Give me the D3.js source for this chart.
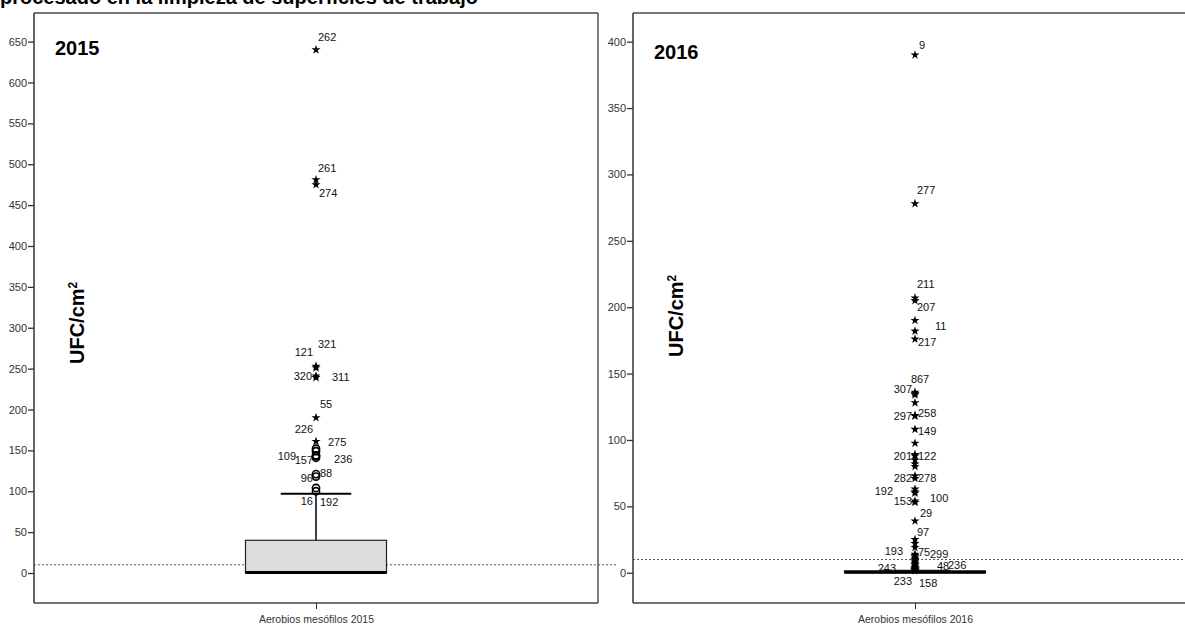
<!DOCTYPE html>
<html lang="es">
<head>
  <meta charset="utf-8">
  <script src="https://cdnjs.cloudflare.com/ajax/libs/d3/7.8.5/d3.min.js"></script>
  <style>
    body { margin: 0; background: #fff; }
    svg { display: block; font-family: "Liberation Sans", Arial, sans-serif; }
    .tick text { font-size: 11px; }
    .lab { font-size: 11px; fill: #111; }
  </style>
</head>
<body>
<svg width="1185" height="625"></svg>
<script>
// ---- data ----
var title = "procesado en la limpieza de superficies de trabajo";
var yTicks2015 = [0, 50, 100, 150, 200, 250, 300, 350, 400, 450, 500, 550, 600, 650];
var yTicks2016 = [0, 50, 100, 150, 200, 250, 300, 350, 400];
var cat2015 = ["Aerobios mesófilos 2015"];
var cat2016 = ["Aerobios mesófilos 2016"];
// q1, median, q3, lower whisker, upper whisker
var box2015 = [0, 0.6, 40, 0, 97];
var box2016 = [0, 0.4, 1.4, 0, 1.4];
var limitValue = 10;

var out2015Ids  = ["262","261","274","321","121","320","311","55","226","275","","109","157","236","88","96","16","192"];
var out2015Vals = [640, 481, 475, 253, 251, 241, 239, 190, 161, 152, 149, 143, 141, 144, 121, 118, 104, 100];
var out2015Kind = ["s","s","s","s","s","s","s","s","s","o","o","o","o","o","o","o","o","o"];

var out2016Ids  = ["9","277","211","207","","11","217","8","67","307","","297","258","149","","201","122","","","",
                   "282","278","192","","","153","100","29","97","","","193","75","299",
                   "","","","","","","","","","243","48","236","233","158"];
var out2016Vals = [390, 278, 207, 205, 190, 182, 176, 136, 135, 134, 128, 118, 118.5, 108, 97.5, 89, 88, 85, 82, 80,
                   73, 71, 63, 61, 60, 54, 53, 39, 25, 22, 19, 14, 13, 12,
                   11, 10, 9, 8, 7, 6, 5, 4, 3.5, 2.2, 2.6, 3, 1.8, 1.6];

// label placement (px offsets from the marker), layout only
var lab2015 = {"262":[2,-9],"261":[2,-8],"274":[3,12],"321":[2,-18],"121":[-3,-12,1],"320":[-4,4,1],"311":[16,3],
  "55":[4,-10],"226":[-3,-8,1],"275":[12,-3],"109":[-20,4,1],"157":[-3,6,1],"236":[18,8],
  "88":[4,3],"96":[-3,5,1],"16":[-3,17,1],"192":[4,15]};
var lab2016 = {"9":[4,-6],"277":[2,-10],"211":[2,-10],"207":[2,10],"11":[20,-1],"217":[3,7],
  "8":[-4,-9],"67":[2,-10],"307":[-3,-2,1],"297":[-3,4,1],"258":[3,2],"149":[3,6],
  "201":[-3,5,1],"122":[3,4],"282":[-3,6,1],"278":[3,4],"192":[-22,6,1],"153":[-3,4,1],"100":[15,0],
  "29":[5,-4],"97":[2,-4],"193":[-12,1,1],"75":[3,1],"299":[15,1],
  "243":[-19,2,1],"48":[22,1],"236":[33,0],"233":[-3,15,1],"158":[4,16]};

var svg = d3.select("svg");

// cropped title at the very top
svg.append("text")
  .attr("x", 0).attr("y", 4)
  .style("font-size", "20px").style("font-weight", "bold")
  .text(title);

function drawPanel(opt) {
  var g = svg.append("g");
  var y = d3.scaleLinear().domain(opt.yDomain).range([opt.bottom, opt.top]);
  var x = d3.scalePoint().domain(opt.cats).range([opt.left, opt.right]).padding(0.5);
  var cx = x(opt.cats[0]);
  var bw = (opt.right - opt.left) * 0.25;

  // frame
  g.append("line").attr("x1", opt.left).attr("x2", opt.right).attr("y1", opt.top).attr("y2", opt.top)
    .attr("stroke", "#777").attr("stroke-width", 2);
  if (opt.closeRight) {
    g.append("line").attr("x1", opt.right).attr("x2", opt.right).attr("y1", opt.top).attr("y2", opt.bottom)
      .attr("stroke", "#555").attr("stroke-width", 1.5);
  }
  g.append("line").attr("x1", opt.left).attr("x2", opt.right).attr("y1", opt.bottom).attr("y2", opt.bottom)
    .attr("stroke", "#444").attr("stroke-width", 1.5);

  g.append("g")
    .attr("transform", "translate(" + opt.left + ",0)")
    .attr("color", "#333")
    .call(d3.axisLeft(y).tickValues(opt.ticks).tickSize(6).tickPadding(1).tickSizeOuter(0))
    .call(function (a) {
      a.select(".domain").attr("d", "M0," + opt.top + "V" + opt.bottom).attr("stroke-width", 1.5);
      a.selectAll(".tick line").attr("stroke-width", 1.3);
    });

  g.append("g")
    .attr("transform", "translate(0," + opt.bottom + ")")
    .attr("color", "#333")
    .call(d3.axisBottom(x).tickSize(6).tickSizeOuter(0).tickPadding(3))
    .call(function (a) { a.select(".domain").remove(); a.selectAll("text").style("font-size", "10.5px").attr("dy", "1em"); });

  // reference line
  g.append("line")
    .attr("x1", opt.left).attr("x2", opt.right + 20)
    .attr("y1", y(limitValue)).attr("y2", y(limitValue))
    .attr("stroke", "#555").attr("stroke-dasharray", "2,2");

  // box
  var b = opt.box;
  g.append("line").attr("x1", cx).attr("x2", cx).attr("y1", y(b[2])).attr("y2", y(b[4]))
    .attr("stroke", "#000").attr("stroke-width", 1.5);
  g.append("line").attr("x1", cx - bw / 4).attr("x2", cx + bw / 4).attr("y1", y(b[4])).attr("y2", y(b[4]))
    .attr("stroke", "#000").attr("stroke-width", 2);
  g.append("rect")
    .attr("x", cx - bw / 2).attr("width", bw)
    .attr("y", y(b[2])).attr("height", Math.max(0.5, y(b[0]) - y(b[2])))
    .attr("fill", "#dcdcdc").attr("stroke", "#222").attr("stroke-width", 1.2);
  g.append("line").attr("x1", cx - bw / 2).attr("x2", cx + bw / 2).attr("y1", y(b[1])).attr("y2", y(b[1]))
    .attr("stroke", "#000").attr("stroke-width", 3);

  // outliers
  var pts = opt.vals.map(function (v, i) { return { v: v, id: opt.ids[i], k: opt.kind ? opt.kind[i] : "s" }; });
  var star = d3.symbol().type(d3.symbolStar).size(26);
  g.selectAll(".pt").data(pts).enter().append(function (d) {
      return document.createElementNS("http://www.w3.org/2000/svg", d.k === "o" ? "circle" : "path");
    })
    .each(function (d) {
      var s = d3.select(this);
      if (d.k === "o") {
        s.attr("cx", cx).attr("cy", y(d.v)).attr("r", 3.6)
          .attr("fill", "none").attr("stroke", "#000").attr("stroke-width", 1.6);
      } else {
        s.attr("d", star).attr("transform", "translate(" + cx + "," + y(d.v) + ")").attr("fill", "#000");
      }
    });

  g.selectAll(".lab").data(pts.filter(function (d) { return d.id && opt.lab[d.id]; })).enter()
    .append("text").attr("class", "lab")
    .attr("x", function (d) { return cx + opt.lab[d.id][0]; })
    .attr("y", function (d) { return y(d.v) + opt.lab[d.id][1]; })
    .attr("text-anchor", function (d) { return opt.lab[d.id][2] ? "end" : "start"; })
    .text(function (d) { return d.id; });

  // year and y-axis title
  g.append("text").attr("x", opt.left + 21).attr("y", opt.yearY)
    .style("font-size", "20px").style("font-weight", "bold").text(opt.year);
  var t = g.append("text")
    .attr("transform", "translate(" + (opt.left + 50) + "," + opt.titleY + ") rotate(-90)")
    .style("font-size", "20px").style("font-weight", "bold");
  t.append("tspan").text("UFC/cm");
  t.append("tspan").attr("dy", "-0.55em").style("font-size", "12px").text("2");
}

// plot area extends below 0 and above the top tick, as in the reference
drawPanel({
  left: 34, right: 598, top: 13, bottom: 603, closeRight: true,
  yDomain: [-36.7, 685], ticks: yTicks2015, cats: cat2015, box: box2015,
  ids: out2015Ids, vals: out2015Vals, kind: out2015Kind, lab: lab2015,
  year: "2015", yearY: 55, titleY: 364
});

drawPanel({
  left: 633, right: 1197, top: 13, bottom: 603, closeRight: false,
  yDomain: [-22.8, 421.6], ticks: yTicks2016, cats: cat2016, box: box2016,
  ids: out2016Ids, vals: out2016Vals, kind: null, lab: lab2016,
  year: "2016", yearY: 59, titleY: 357
});
</script>
</body>
</html>
